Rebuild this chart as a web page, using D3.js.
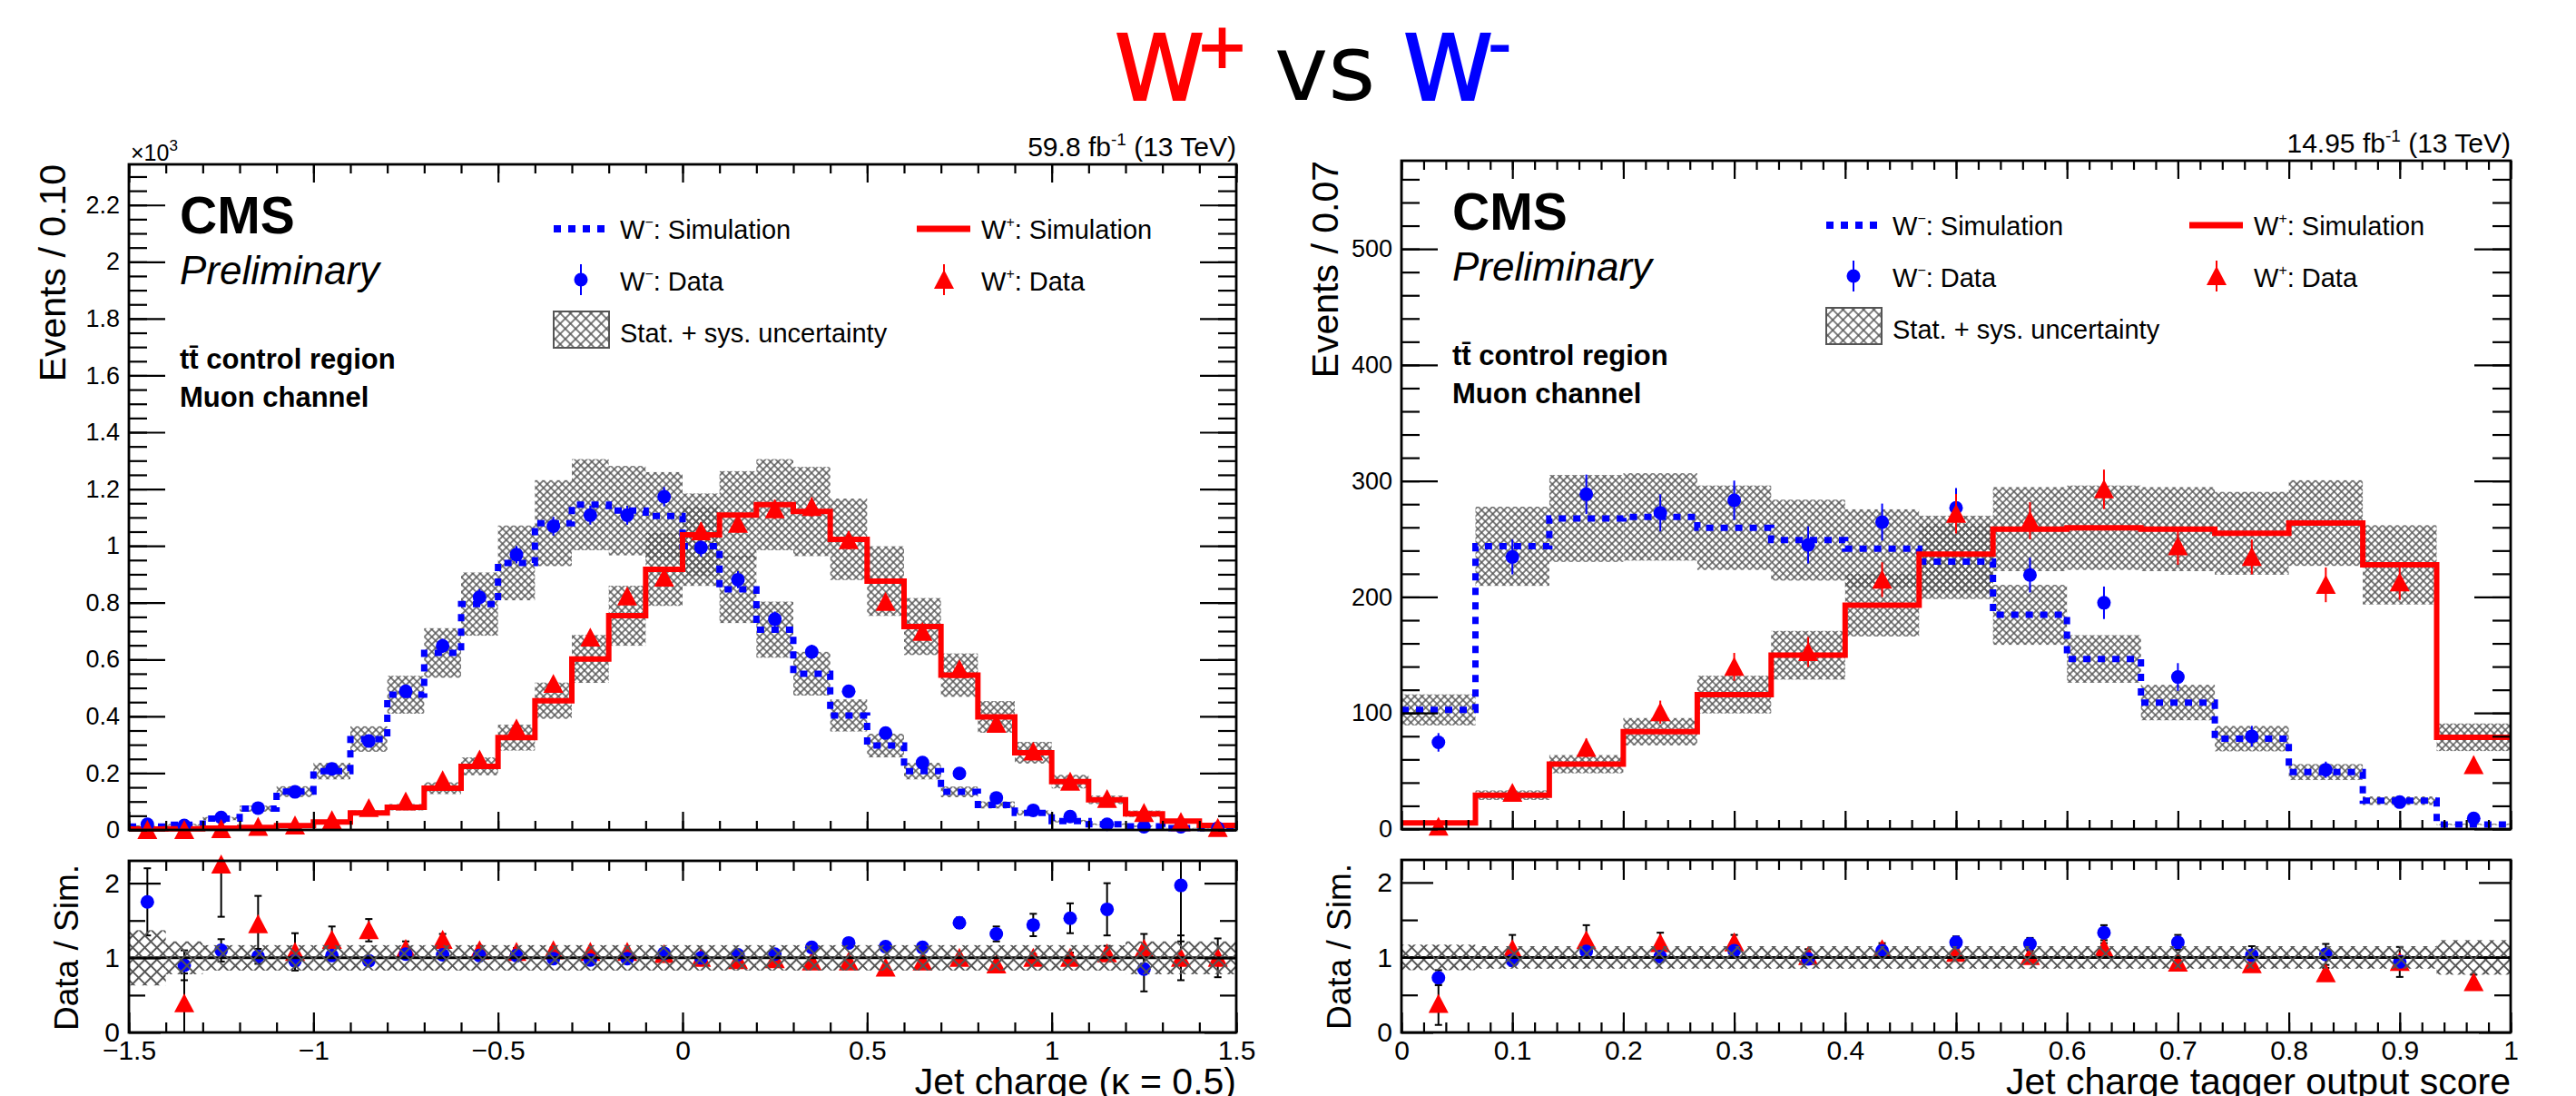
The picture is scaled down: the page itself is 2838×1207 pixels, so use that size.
<!DOCTYPE html>
<html>
<head>
<meta charset="utf-8">
<title>W+ vs W- jet charge</title>
<script src="https://d3js.org/d3.v7.min.js"></script>
<style>
  body { margin: 0; background: #fff; }
  text { font-family: "Liberation Sans", Arial, Helvetica, sans-serif; }
</style>
</head>
<body>
<div id="container"></div>
<script>

const width = 2838, height = 1207;

// ---- left plot: jet charge (kappa = 0.5), events in units of 10^3 ----
const edgesL = [-1.5,-1.4,-1.3,-1.2,-1.1,-1.0,-0.9,-0.8,-0.7,-0.6,-0.5,-0.4,-0.3,-0.2,-0.1,0,
                0.1,0.2,0.3,0.4,0.5,0.6,0.7,0.8,0.9,1.0,1.1,1.2,1.3,1.4,1.5];
const wmSimL  = [0.012,0.018,0.040,0.075,0.135,0.207,0.320,0.476,0.623,0.795,0.940,1.080,1.145,1.124,1.105,
                 0.999,0.847,0.705,0.550,0.403,0.297,0.207,0.134,0.088,0.060,0.031,0.020,0.013,0.006,0.006];
const wmDataL = [0.020,0.016,0.044,0.077,0.134,0.215,0.313,0.488,0.648,0.819,0.969,1.069,1.108,1.108,1.173,
                 0.994,0.881,0.742,0.627,0.488,0.341,0.237,0.199,0.113,0.069,0.047,0.020,0.011,0.011,0.006];
const wmErrL  = [0.004,0.004,0.007,0.009,0.012,0.015,0.018,0.022,0.025,0.029,0.031,0.033,0.033,0.033,0.034,
                 0.032,0.030,0.027,0.025,0.022,0.018,0.015,0.014,0.011,0.008,0.007,0.004,0.003,0.003,0.002];
const wpSimL  = [0.003,0.004,0.006,0.009,0.015,0.028,0.060,0.080,0.147,0.224,0.325,0.455,0.602,0.754,0.917,
                 1.039,1.108,1.145,1.121,1.023,0.876,0.716,0.545,0.398,0.272,0.170,0.106,0.057,0.031,0.016];
const wpDataL = [0.000,0.000,0.003,0.011,0.016,0.034,0.077,0.100,0.175,0.248,0.357,0.514,0.677,0.822,0.888,
                 1.051,1.078,1.129,1.137,1.020,0.803,0.697,0.566,0.374,0.276,0.170,0.109,0.060,0.028,0.007];
const wpErrL  = [0.001,0.001,0.002,0.003,0.004,0.006,0.009,0.010,0.013,0.016,0.019,0.023,0.026,0.029,0.030,
                 0.032,0.033,0.034,0.034,0.032,0.028,0.026,0.024,0.019,0.017,0.013,0.010,0.008,0.005,0.003];
const uncL    = [0.37,0.20,0.14,0.14,0.14,0.14,0.14,0.14,0.14,0.14,0.14,0.14,0.14,0.14,0.14,
                 0.14,0.14,0.14,0.14,0.14,0.14,0.14,0.14,0.14,0.14,0.14,0.14,0.20,0.20,0.20];
const wmRatioL    = [1.75,0.90,1.10,1.02,0.96,1.03,0.96,1.05,1.04,1.03,1.03,0.99,0.97,0.99,1.06,
                     1.00,1.04,1.05,1.14,1.20,1.15,1.14,1.47,1.32,1.44,1.53,1.65,0.85,1.97,null];
const wmRatioErrL = [0.45,0.20,0.15,0.10,0.07,0.05,0.04,0.03,0.03,0.02,0.02,0.02,0.02,0.02,0.02,
                     0.02,0.02,0.03,0.03,0.04,0.05,0.06,0.07,0.10,0.15,0.20,0.35,0.30,0.75,0];
const wpRatioL    = [null,0.39,2.25,1.45,1.08,1.24,1.37,1.12,1.24,1.10,1.08,1.10,1.08,1.08,1.05,
                     1.00,0.97,0.98,0.95,0.95,0.87,0.95,1.00,0.91,1.00,1.00,1.06,1.12,1.00,1.00];
const wpRatioErrL = [0,0.40,0.70,0.38,0.25,0.18,0.15,0.10,0.08,0.06,0.05,0.04,0.03,0.03,0.02,
                     0.02,0.02,0.02,0.02,0.02,0.02,0.03,0.03,0.04,0.05,0.07,0.10,0.20,0.30,0.26];
const ratioUncL   = [0.37,0.22,0.17,0.17,0.17,0.17,0.17,0.17,0.17,0.17,0.17,0.17,0.17,0.17,0.17,
                     0.17,0.17,0.17,0.17,0.17,0.17,0.17,0.17,0.17,0.17,0.17,0.17,0.22,0.22,0.22];

// ---- right plot: jet charge tagger output score, events ----
const edgesR = [0,0.0667,0.1333,0.2,0.2667,0.3333,0.4,0.4667,0.5333,0.6,0.6667,0.7333,0.8,0.8667,0.9333,1];
const wmSimR  = [102.7,243.7,267.7,269.0,259.7,249.0,241.7,230.5,184.6,146.6,109.0,77.9,49.1,24.4,4.0];
const wmDataR = [74.7,234.5,288.5,272.5,283.3,244.9,264.5,276.9,218.9,195.0,131.0,79.9,51.1,23.2,9.2];
const wmErrR  = [8,15,17,16,17,16,16,17,15,14,12,9,7,5,3];
const wpSimR  = [5.2,29.2,55.9,83.9,115.9,149.8,193.0,236.9,258.5,259.7,258.5,254.9,263.7,227.7,79.1];
const wpDataR = [2.0,31.2,70.0,100.7,139.8,152.6,214.9,271.7,265.7,292.8,243.7,234.5,210.5,212.5,55.1];
const wpErrR  = [2,6,8,10,12,13,15,17,16,17,16,15,15,15,7];
const uncR    = [0.13,0.14,0.14,0.14,0.14,0.14,0.14,0.14,0.14,0.14,0.14,0.14,0.14,0.15,0.15];
const wmRatioR    = [0.73,0.96,1.08,1.01,1.09,0.98,1.09,1.20,1.18,1.33,1.20,1.03,1.04,0.94,null];
const wmRatioErrR = [0.10,0.07,0.07,0.07,0.07,0.07,0.07,0.08,0.08,0.10,0.10,0.12,0.14,0.20,0];
const wpRatioR    = [0.38,1.11,1.23,1.19,1.20,1.02,1.11,1.06,1.02,1.12,0.93,0.91,0.79,0.94,0.67];
const wpRatioErrR = [0.28,0.19,0.20,0.14,0.10,0.09,0.08,0.07,0.07,0.07,0.07,0.07,0.07,0.08,0.10];
const ratioUncR   = [0.17,0.15,0.15,0.15,0.15,0.15,0.15,0.15,0.15,0.15,0.15,0.15,0.15,0.15,0.23];

// ---- ticks ----
const xMajorL = [-1.5,-1,-0.5,0,0.5,1,1.5];
const yMajorL = [0,0.2,0.4,0.6,0.8,1,1.2,1.4,1.6,1.8,2,2.2];
const xMajorR = [0,0.1,0.2,0.3,0.4,0.5,0.6,0.7,0.8,0.9,1];
const yMajorR = [0,100,200,300,400,500];
const ratioMajor = [0,1,2];
const ratioMinor = [0.5,1.5];

const svg = d3.select("#container")
  .append("svg")
  .attr("width", width)
  .attr("height", height)
  .style("display", "block")
  .style("background", "#fff");

const defs = svg.append("defs");
function hatch(id, size, sw) {
  const p = defs.append("pattern")
    .attr("id", id)
    .attr("patternUnits", "userSpaceOnUse")
    .attr("width", size).attr("height", size)
    .attr("patternTransform", "rotate(45)");
  p.append("path")
    .attr("d", `M0,${size / 2}H${size}M${size / 2},0V${size}`)
    .attr("stroke", "#555")
    .attr("stroke-width", sw);
}
hatch("hatchMain", 5.8, 1.5);
hatch("hatchRatio", 9.4, 2);
hatch("hatchLeg", 8, 1.5);

// title
const title = svg.append("text")
  .attr("y", 110)
  .style("font-family", "'DejaVu Sans', Verdana, sans-serif")
  .attr("font-size", 100);
title.append("tspan").attr("x", 1228).attr("fill", "#f00").attr("stroke", "#f00").attr("stroke-width", 2).text("W");
title.append("tspan").attr("x", 1318).attr("y", 74).attr("font-size", 68).attr("fill", "#f00").attr("stroke", "#f00").attr("stroke-width", 2).text("+");
title.append("tspan").attr("x", 1404).attr("y", 110).attr("fill", "#000").attr("stroke", "none").text("vs");
title.append("tspan").attr("x", 1546).attr("fill", "#00f").attr("stroke", "#00f").attr("stroke-width", 2).text("W");
title.append("tspan").attr("x", 1640).attr("y", 72).attr("font-size", 68).attr("fill", "#00f").attr("stroke", "#00f").attr("stroke-width", 2).text("-");

function wText(sel, x, y, sign, rest, size) {
  const t = sel.append("text").attr("x", x).attr("y", y).attr("font-size", size);
  t.append("tspan").text("W");
  t.append("tspan").attr("font-size", size * 0.55).attr("dy", -size * 0.45).text(sign);
  t.append("tspan").attr("font-size", size).attr("dy", size * 0.45).text(rest);
  return t;
}

function triangle(s) {
  return `M0,${-s}L${s},${s * 0.9}L${-s},${s * 0.9}Z`;
}

function drawAxes(g, x, y, b, o) {
  const sides = [
    {axis: d3.axisBottom, scale: x, t: `translate(0,${b.y1})`, maj: o.xMaj, min: o.xMin, len: o.xLen, labels: o.xLabels, pad: 9, fs: 30},
    {axis: d3.axisTop, scale: x, t: `translate(0,${b.y0})`, maj: o.xMaj, min: o.xMin, len: o.xLen, labels: false},
    {axis: d3.axisLeft, scale: y, t: `translate(${b.x0},0)`, maj: o.yMaj, min: o.yMin, len: o.yLen, labels: true, pad: 10, fs: o.yFs},
    {axis: d3.axisRight, scale: y, t: `translate(${b.x1},0)`, maj: o.yMaj, min: o.yMin, len: o.yLen, labels: false}
  ];
  sides.forEach(s => {
    g.append("g").attr("transform", s.t)
      .call(s.axis(s.scale).tickValues(s.min).tickSize(-s.len[1]).tickSizeOuter(0).tickFormat(""))
      .call(a => a.select(".domain").remove())
      .selectAll("line").attr("stroke", "#000").attr("stroke-width", 2.2);
    const ax = g.append("g").attr("transform", s.t)
      .call(s.axis(s.scale).tickValues(s.maj).tickSize(-s.len[0]).tickSizeOuter(0)
        .tickPadding(s.pad || 3)
        .tickFormat(s.labels ? d3.format("~g") : ""))
      .call(a => a.select(".domain").remove())
      .attr("font-size", s.fs || 10)
      .attr("font-family", "'Liberation Sans', Arial, sans-serif");
    ax.selectAll("line").attr("stroke", "#000").attr("stroke-width", 2.2);
    ax.selectAll("text").attr("fill", "#000");
  });
  g.append("rect")
    .attr("x", b.x0).attr("y", b.y0)
    .attr("width", b.x1 - b.x0).attr("height", b.y1 - b.y0)
    .attr("fill", "none").attr("stroke", "#000").attr("stroke-width", 2.8);
}

function drawPanel(p) {
  const b = p.box;
  const g = svg.append("g");
  const x = d3.scaleLinear().domain([p.edges[0], p.edges[p.edges.length - 1]]).range([b.x0, b.x1]);
  const y = d3.scaleLinear().domain([0, p.yMax]).range([b.y1, b.y0]);
  const yr = d3.scaleLinear().domain([0, 2.3]).range([b.r1, b.r0]);
  const bins = p.edges.slice(0, -1).map((lo, i) => ({lo: lo, hi: p.edges[i + 1], mid: (lo + p.edges[i + 1]) / 2, i: i}));
  const clampY = v => Math.max(0, Math.min(p.yMax, v));
  const clampR = v => Math.max(0, Math.min(2.3, v));

  // uncertainty bands
  [p.wmSim, p.wpSim].forEach(sim => {
    g.append("g").selectAll("rect")
      .data(bins)
      .join("rect")
      .attr("x", d => x(d.lo))
      .attr("width", d => x(d.hi) - x(d.lo))
      .attr("y", d => y(sim[d.i] * (1 + p.unc[d.i])))
      .attr("height", d => y(sim[d.i] * (1 - p.unc[d.i])) - y(sim[d.i] * (1 + p.unc[d.i])))
      .attr("fill", "url(#hatchMain)");
  });

  // simulation histograms
  const step = d3.line().x(d => x(d[0])).y(d => y(d[1])).curve(d3.curveStepAfter);
  const pts = sim => p.edges.map((e, i) => [e, sim[Math.min(i, sim.length - 1)]]);
  g.append("path")
    .attr("d", step(pts(p.wmSim)))
    .attr("fill", "none")
    .attr("stroke", "#00f")
    .attr("stroke-width", 7)
    .attr("stroke-dasharray", "8,8");
  g.append("path")
    .attr("d", step(pts(p.wpSim)))
    .attr("fill", "none")
    .attr("stroke", "#f00")
    .attr("stroke-width", 6);

  // data
  g.append("g").selectAll("line")
    .data(bins)
    .join("line")
    .attr("x1", d => x(d.mid)).attr("x2", d => x(d.mid))
    .attr("y1", d => y(clampY(p.wmData[d.i] - p.wmErr[d.i])))
    .attr("y2", d => y(clampY(p.wmData[d.i] + p.wmErr[d.i])))
    .attr("stroke", "#00f").attr("stroke-width", 2);
  g.append("g").selectAll("circle")
    .data(bins)
    .join("circle")
    .attr("cx", d => x(d.mid))
    .attr("cy", d => y(p.wmData[d.i]))
    .attr("r", 7.5)
    .attr("fill", "#00f");
  g.append("g").selectAll("line")
    .data(bins)
    .join("line")
    .attr("x1", d => x(d.mid)).attr("x2", d => x(d.mid))
    .attr("y1", d => y(clampY(p.wpData[d.i] - p.wpErr[d.i])))
    .attr("y2", d => y(clampY(p.wpData[d.i] + p.wpErr[d.i])))
    .attr("stroke", "#f00").attr("stroke-width", 2);
  g.append("g").selectAll("path")
    .data(bins)
    .join("path")
    .attr("transform", d => `translate(${x(d.mid)},${y(p.wpData[d.i])})`)
    .attr("d", triangle(11))
    .attr("fill", "#f00");

  drawAxes(g, x, y, {x0: b.x0, x1: b.x1, y0: b.y0, y1: b.y1}, {
    xMaj: p.xMaj, xMin: p.xMin, xLen: [20, 10], xLabels: false,
    yMaj: p.yMaj, yMin: p.yMin, yLen: [40, 20], yFs: 27
  });

  // ratio panel
  const rg = svg.append("g");
  [{r: p.wmRatio, e: p.wmRatioErr}, {r: p.wpRatio, e: p.wpRatioErr}].forEach(s => {
    const ok = bins.filter(d => s.r[d.i] !== null && s.e[d.i] > 0);
    rg.append("g").selectAll("line")
      .data(ok)
      .join("line")
      .attr("x1", d => x(d.mid)).attr("x2", d => x(d.mid))
      .attr("y1", d => yr(clampR(s.r[d.i] - s.e[d.i])))
      .attr("y2", d => yr(clampR(s.r[d.i] + s.e[d.i])))
      .attr("stroke", "#000").attr("stroke-width", 2);
    [-1, 1].forEach(sgn => {
      rg.append("g").selectAll("line")
        .data(ok.filter(d => s.r[d.i] + sgn * s.e[d.i] > 0 && s.r[d.i] + sgn * s.e[d.i] < 2.3))
        .join("line")
        .attr("x1", d => x(d.mid) - 4).attr("x2", d => x(d.mid) + 4)
        .attr("y1", d => yr(s.r[d.i] + sgn * s.e[d.i]))
        .attr("y2", d => yr(s.r[d.i] + sgn * s.e[d.i]))
        .attr("stroke", "#000").attr("stroke-width", 2);
    });
  });
  rg.append("g").selectAll("path")
    .data(bins.filter(d => p.wpRatio[d.i] !== null))
    .join("path")
    .attr("transform", d => `translate(${x(d.mid)},${yr(p.wpRatio[d.i])})`)
    .attr("d", triangle(11))
    .attr("fill", "#f00");
  rg.append("g").selectAll("circle")
    .data(bins.filter(d => p.wmRatio[d.i] !== null))
    .join("circle")
    .attr("cx", d => x(d.mid))
    .attr("cy", d => yr(p.wmRatio[d.i]))
    .attr("r", 7.5)
    .attr("fill", "#00f");
  rg.append("line")
    .attr("x1", b.x0).attr("x2", b.x1)
    .attr("y1", yr(1)).attr("y2", yr(1))
    .attr("stroke", "#000").attr("stroke-width", 3);
  rg.append("g").selectAll("rect")
    .data(bins)
    .join("rect")
    .attr("x", d => x(d.lo))
    .attr("width", d => x(d.hi) - x(d.lo))
    .attr("y", d => yr(1 + p.ratioUnc[d.i]))
    .attr("height", d => yr(1 - p.ratioUnc[d.i]) - yr(1 + p.ratioUnc[d.i]))
    .attr("fill", "url(#hatchRatio)");

  drawAxes(rg, x, yr, {x0: b.x0, x1: b.x1, y0: b.r0, y1: b.r1}, {
    xMaj: p.xMaj, xMin: p.xMin, xLen: [22, 11], xLabels: true,
    yMaj: ratioMajor, yMin: ratioMinor, yLen: [35, 18], yFs: 30
  });

  // axis titles
  svg.append("text")
    .attr("transform", `translate(${b.x0 - 70},${b.y0}) rotate(-90)`)
    .attr("text-anchor", "end")
    .attr("font-size", 41)
    .text(p.yTitle);
  svg.append("text")
    .attr("transform", `translate(${b.x0 - 56},${b.r0 + 4}) rotate(-90)`)
    .attr("text-anchor", "end")
    .attr("font-size", 37)
    .text("Data / Sim.");
  svg.append("text")
    .attr("x", b.x1).attr("y", 1205)
    .attr("text-anchor", "end")
    .attr("font-size", 41)
    .text(p.xTitle);

  // lumi label
  const lumi = svg.append("text")
    .attr("x", b.x1).attr("y", b.y0 - 9)
    .attr("text-anchor", "end")
    .attr("font-size", 30);
  lumi.append("tspan").text(p.lumi + " fb");
  lumi.append("tspan").attr("font-size", 19).attr("dy", -12).text("-1");
  lumi.append("tspan").attr("font-size", 30).attr("dy", 12).text(" (13 TeV)");

  if (p.expo) {
    const ex = svg.append("text").attr("x", b.x0 + 2).attr("y", b.y0 - 4).attr("font-size", 25);
    ex.append("tspan").text("\u00d710");
    ex.append("tspan").attr("font-size", 17).attr("dy", -11).text("3");
  }

  // CMS labels
  const lg = svg.append("g").attr("transform", `translate(${b.x0},${b.y0})`);
  lg.append("text").attr("x", 56).attr("y", 76).attr("font-size", 57).attr("font-weight", "bold").text("CMS");
  lg.append("text").attr("x", 56).attr("y", 132).attr("font-size", 44).attr("font-style", "italic").text("Preliminary");
  lg.append("text").attr("x", 56).attr("y", 225).attr("font-size", 31).attr("font-weight", "bold").text("tt\u0304 control region");
  lg.append("text").attr("x", 56).attr("y", 267).attr("font-size", 31).attr("font-weight", "bold").text("Muon channel");

  // legend
  lg.append("line")
    .attr("x1", 468).attr("x2", 525).attr("y1", 71).attr("y2", 71)
    .attr("stroke", "#00f").attr("stroke-width", 8).attr("stroke-dasharray", "8,8");
  wText(lg, 541, 82, "\u2212", ": Simulation", 29);
  lg.append("line")
    .attr("x1", 868).attr("x2", 927).attr("y1", 71).attr("y2", 71)
    .attr("stroke", "#f00").attr("stroke-width", 7);
  wText(lg, 939, 82, "+", ": Simulation", 29);
  lg.append("line")
    .attr("x1", 498).attr("x2", 498).attr("y1", 110).attr("y2", 144)
    .attr("stroke", "#00f").attr("stroke-width", 2);
  lg.append("circle").attr("cx", 498).attr("cy", 127).attr("r", 7.5).attr("fill", "#00f");
  wText(lg, 541, 139, "\u2212", ": Data", 29);
  lg.append("line")
    .attr("x1", 898).attr("x2", 898).attr("y1", 110).attr("y2", 144)
    .attr("stroke", "#f00").attr("stroke-width", 2);
  lg.append("path").attr("transform", "translate(898,127)").attr("d", triangle(11)).attr("fill", "#f00");
  wText(lg, 939, 139, "+", ": Data", 29);
  lg.append("rect")
    .attr("x", 468).attr("y", 162).attr("width", 61).attr("height", 40)
    .attr("fill", "url(#hatchLeg)").attr("stroke", "#555").attr("stroke-width", 2);
  lg.append("text").attr("x", 541).attr("y", 196).attr("font-size", 29).text("Stat. + sys. uncertainty");
}

drawPanel({
  box: {x0: 142, x1: 1362, y0: 181, y1: 914, r0: 948, r1: 1137},
  edges: edgesL, yMax: 2.343,
  wmSim: wmSimL, wmData: wmDataL, wmErr: wmErrL,
  wpSim: wpSimL, wpData: wpDataL, wpErr: wpErrL,
  unc: uncL, ratioUnc: ratioUncL,
  wmRatio: wmRatioL, wmRatioErr: wmRatioErrL,
  wpRatio: wpRatioL, wpRatioErr: wpRatioErrL,
  xMaj: xMajorL, xMin: d3.range(-1.5, 1.5001, 0.1),
  yMaj: yMajorL, yMin: d3.range(0, 2.34, 0.05),
  yTitle: "Events / 0.10", xTitle: "Jet charge (\u03ba = 0.5)",
  lumi: "59.8", expo: true
});

drawPanel({
  box: {x0: 1544, x1: 2766, y0: 177, y1: 913, r0: 947, r1: 1137},
  edges: edgesR, yMax: 576,
  wmSim: wmSimR, wmData: wmDataR, wmErr: wmErrR,
  wpSim: wpSimR, wpData: wpDataR, wpErr: wpErrR,
  unc: uncR, ratioUnc: ratioUncR,
  wmRatio: wmRatioR, wmRatioErr: wmRatioErrR,
  wpRatio: wpRatioR, wpRatioErr: wpRatioErrR,
  xMaj: xMajorR, xMin: d3.range(0, 1.0001, 0.02),
  yMaj: yMajorR, yMin: d3.range(0, 576, 20),
  yTitle: "Events / 0.07", xTitle: "Jet charge tagger output score",
  lumi: "14.95", expo: false
});

</script>
</body>
</html>
